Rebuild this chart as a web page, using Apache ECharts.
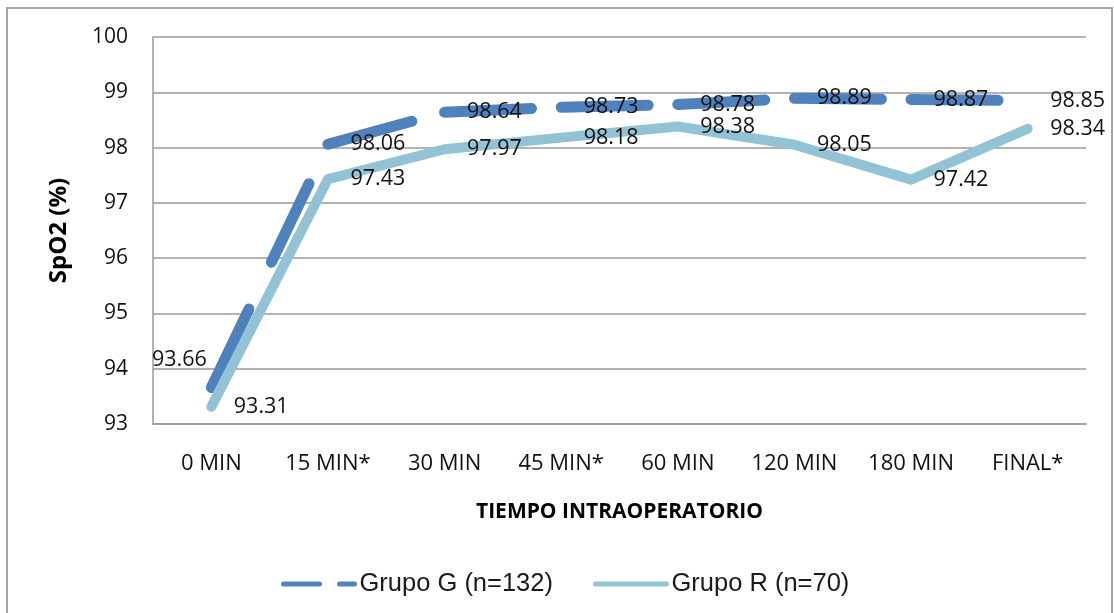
<!DOCTYPE html>
<html>
<head>
<meta charset="utf-8">
<script src="https://cdn.jsdelivr.net/npm/echarts@6/dist/echarts.min.js"></script>
<style>
  html, body { margin: 0; padding: 0; background: #ffffff; }
  #chart { width: 1114px; height: 613px; }
</style>
</head>
<body>
<div id="chart"></div>
<script>
// Intraoperative SpO2 by time point for both groups
const categories = ['0 MIN', '15 MIN*', '30 MIN', '45 MIN*', '60 MIN', '120 MIN', '180 MIN', 'FINAL*'];
const grupoG = [93.66, 98.06, 98.64, 98.73, 98.78, 98.89, 98.87, 98.85];
const grupoR = [93.31, 97.43, 97.97, 98.18, 98.38, 98.05, 97.42, 98.34];
const yTicks = { min: 93, max: 100, interval: 1 };

const nameG = 'Grupo G (n=132)';
const nameR = 'Grupo R (n=70)';
const colorG = '#4F81BD';
const colorR = '#92C3D5';
const txt = 'Open Sans';

// The dashed line restarts its dash pattern at every time point,
// so each segment of Grupo G is its own series.
const segmentSeries = [];
for (let i = 0; i < grupoG.length - 1; i++) {
  segmentSeries.push({
    type: 'line',
    name: nameG,
    data: grupoG.map((v, j) => (j === i || j === i + 1) ? v : '-'),
    symbol: 'none',
    connectNulls: false,
    silent: true,
    lineStyle: { color: colorG, width: 11, type: [87, 52], cap: 'round', join: 'round' },
    itemStyle: { color: colorG },
    z: 2
  });
}

const hidden = 'rgba(0,0,0,0)';

const option = {
  animation: false,
  backgroundColor: '#ffffff',
  graphic: [{
    type: 'rect',
    shape: { x: 7, y: 8, width: 1105, height: 620 },
    style: { fill: 'none', stroke: '#a6a6a6', lineWidth: 2 },
    silent: true, z: -10
  }],
  grid: { left: 153, right: 28, top: 37, bottom: 189 },
  legend: {
    left: 276, top: 566,
    itemWidth: 71, itemHeight: 30, itemGap: 40,
    textStyle: { fontFamily: 'Liberation Sans', fontSize: 25.5, color: '#1a1a1a' },
    data: [
      { name: nameG, itemStyle: { opacity: 0 },
        lineStyle: { color: colorG, width: 5, type: [36, 20], cap: 'round', opacity: 1 } },
      { name: nameR, itemStyle: { opacity: 0 },
        lineStyle: { color: colorR, width: 5, type: 'solid', cap: 'round', opacity: 1 } }
    ]
  },
  xAxis: {
    type: 'category',
    data: categories,
    boundaryGap: true,
    name: 'TIEMPO INTRAOPERATORIO',
    nameLocation: 'middle',
    nameGap: 78,
    nameTextStyle: { fontFamily: txt, fontWeight: 'bold', fontSize: 21, color: '#000' },
    axisLine: { lineStyle: { color: '#9a9a9a', width: 1.5 } },
    axisTick: { show: false },
    axisLabel: { margin: 29, fontFamily: txt, fontSize: 22, color: '#111' },
    splitLine: { show: false }
  },
  yAxis: {
    type: 'value',
    min: yTicks.min, max: yTicks.max, interval: yTicks.interval,
    name: 'SpO2 (%)',
    nameLocation: 'middle',
    nameGap: 82,
    nameRotate: 90,
    nameTextStyle: { fontFamily: txt, fontWeight: 'bold', fontSize: 24, color: '#000' },
    axisLine: { show: true, lineStyle: { color: '#9a9a9a', width: 1.5 } },
    axisTick: { show: false },
    axisLabel: { margin: 25, fontFamily: txt, fontSize: 21, color: '#111' },
    splitLine: { lineStyle: { color: '#9a9a9a', width: 1.5 } }
  },
  series: [
    ...segmentSeries,
    {
      // value labels for Grupo G (the line itself is drawn by the segments)
      type: 'line',
      name: nameG,
      data: grupoG.map((v, j) => j === 0
        ? { value: v, label: { position: 'left', distance: 4, offset: [0, -28] } }
        : v),
      symbol: 'circle',
      symbolSize: 1,
      itemStyle: { color: hidden },
      lineStyle: { opacity: 0, width: 0 },
      label: { show: true, position: 'right', distance: 22, fontFamily: txt, fontSize: 21.5, color: '#111' },
      z: 2
    },
    {
      type: 'line',
      name: nameR,
      data: grupoR,
      symbol: 'circle',
      symbolSize: 1,
      itemStyle: { color: hidden },
      lineStyle: { color: colorR, width: 10, cap: 'round', join: 'round' },
      label: { show: true, position: 'right', distance: 22, fontFamily: txt, fontSize: 21.5, color: '#111' },
      z: 3
    }
  ]
};

const chart = echarts.init(document.getElementById('chart'), null, { renderer: 'canvas' });
chart.setOption(option);
</script>
</body>
</html>
